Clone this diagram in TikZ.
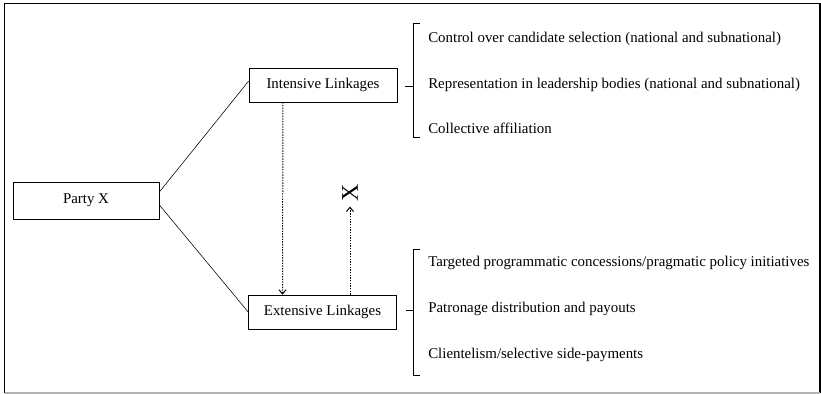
\documentclass[tikz,border=0pt]{standalone}
\usepackage{fontspec}
\setmainfont{Liberation Serif}
\usetikzlibrary{arrows.meta,positioning}

\begin{document}
\begin{tikzpicture}[
    x=0.025cm, y=-0.025cm,
    font=\fontsize{10.6}{12}\selectfont,
    box/.style={rectangle, draw, minimum width=3.7cm, minimum height=0.85cm, align=center},
    item/.style={anchor=west, inner sep=0pt},
    dotarr/.style={line width=0.7pt, dash pattern=on 1pt off 0.9pt, -{Straight Barb[length=3pt,width=5pt]}},
    brk/.style={line width=0.5pt}
]
    \useasboundingbox (0,0) rectangle (821,394);

    % Outer frame
    \draw[line width=1pt] (4.5,393) -- (4.5,3.5) -- (820,3.5) -- (820,393);
    \draw[gray!60, line width=1pt] (4.5,393) -- (820,393);

    % Boxes
    \node[box, minimum width=3.65cm, minimum height=0.925cm] (party) at (86,200.5) {Party X};
    \node[box] (intensive) at (323,85) {Intensive Linkages};
    \node[box] (extensive) at (322.5,312) {Extensive Linkages};

    % Links from the party
    \draw ([yshift=0.21cm]party.east) -- ([yshift=0.1cm]intensive.west);
    \draw ([yshift=-0.11cm]party.east) -- (extensive.west);

    % Dotted arrows
    \node[rotate=90, font=\fontsize{17}{17}\selectfont] (cross) at (350,193) {X};
    \draw[dotarr] ([xshift=-1cm]intensive.south) -- ([xshift=-1cm]extensive.north);
    \draw[dotarr] (extensive.north -| cross) -- (cross);

    % Brackets
    \draw[brk] (420,23) -- (413,23) -- (413,137) -- (420,137);
    \draw[brk] (413,86) -- (405,86);
    \draw[brk] (420,249) -- (413,249) -- (413,375) -- (420,375);
    \draw[brk] (413,310) -- (406,310);

    % Intensive items
    \node[item] (int1) at (428,39) {Control over candidate selection (national and subnational)};
    \node[item] (int2) at (428,85) {Representation in leadership bodies (national and subnational)};
    \node[item] (int3) at (428,128) {Collective affiliation};

    % Extensive items
    \node[item] (ext1) at (428,263) {Targeted programmatic concessions/pragmatic policy initiatives};
    \node[item] (ext2) at (428,309) {Patronage distribution and payouts};
    \node[item] (ext3) at (428,355) {Clientelism/selective side-payments};
\end{tikzpicture}
\end{document}
